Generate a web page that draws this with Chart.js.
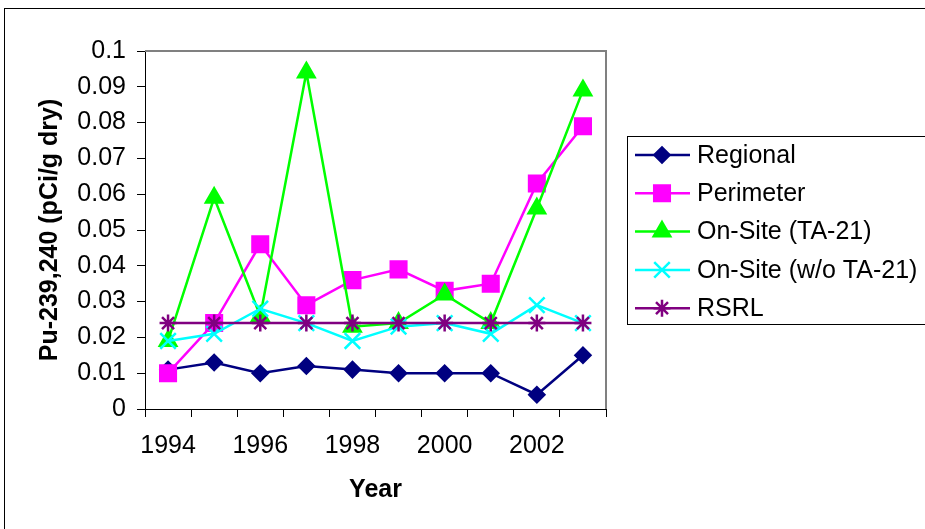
<!DOCTYPE html>
<html>
<head>
<meta charset="utf-8">
<script src="https://cdn.jsdelivr.net/npm/chart.js@4/dist/chart.umd.min.js"></script>
<style>
  body { margin: 0; background: #fff; }
  #wrap { width: 925px; height: 529px; }
</style>
</head>
<body>
<div id="wrap"><canvas id="chart" width="925" height="529"></canvas></div>
<script>
// Categories and series
const years = ['1994', '1995', '1996', '1997', '1998', '1999', '2000', '2001', '2002', '2003'];
const regional = [0.011, 0.013, 0.010, 0.012, 0.011, 0.010, 0.010, 0.010, 0.004, 0.015];
const perimeter = [0.010, 0.024, 0.046, 0.029, 0.036, 0.039, 0.033, 0.035, 0.063, 0.079];
const onSiteTA21 = [0.019, 0.059, 0.026, 0.094, 0.023, 0.024, 0.032, 0.024, 0.056, 0.089];
const onSiteNoTA21 = [0.019, 0.021, 0.028, 0.024, 0.019, 0.023, 0.024, 0.021, 0.029, 0.024];
const rsrl = [0.024, 0.024, 0.024, 0.024, 0.024, 0.024, 0.024, 0.024, 0.024, 0.024];
const yTicks = [0, 0.01, 0.02, 0.03, 0.04, 0.05, 0.06, 0.07, 0.08, 0.09, 0.1];

const FONT = 'Arial, "Liberation Sans", sans-serif';
Chart.defaults.font.family = FONT;
Chart.defaults.font.size = 25;
Chart.defaults.color = '#000';

function series(label, data, color, style, radius, order) {
    return {
        label: label,
        data: data,
        borderColor: color,
        backgroundColor: color,
        pointBackgroundColor: color,
        pointBorderColor: color,
        pointStyle: style,
        pointRadius: radius,
        pointBorderWidth: 2.5,
        borderWidth: 2.5,
        tension: 0,
        order: order
    };
}

// white page, outer frame, grey top/right of plot
const framePlugin = {
    id: 'frame',
    beforeDraw(chart) {
        const ctx = chart.ctx;
        ctx.save();
        ctx.fillStyle = '#fff';
        ctx.fillRect(0, 0, chart.width, chart.height);
        ctx.strokeStyle = '#000';
        ctx.lineWidth = 1;
        ctx.strokeRect(4.5, 8.5, chart.width + 10, chart.height + 10);
        ctx.restore();
    },
    beforeDatasetsDraw(chart) {
        const a = chart.chartArea;
        const ctx = chart.ctx;
        ctx.save();
        ctx.strokeStyle = '#808080';
        ctx.lineWidth = 2;
        ctx.beginPath();
        ctx.moveTo(a.left, a.top);
        ctx.lineTo(a.right, a.top);
        ctx.lineTo(a.right, a.bottom);
        ctx.stroke();
        ctx.restore();
    }
};

// Excel style legend: line with marker, boxed, on the right
const legendPlugin = {
    id: 'excelLegend',
    afterDraw(chart) {
        const ctx = chart.ctx;
        const box = { x: 627.5, y: 136.5, w: 400, h: 188 };
        ctx.save();
        ctx.strokeStyle = '#000';
        ctx.lineWidth = 1;
        ctx.strokeRect(box.x, box.y, box.w, box.h);
        const sets = chart.data.datasets;
        sets.forEach(function(ds, i) {
            const y = 155 + i * 38.3;
            ctx.strokeStyle = ds.borderColor;
            ctx.lineWidth = ds.borderWidth;
            ctx.beginPath();
            ctx.moveTo(635, y);
            ctx.lineTo(690, y);
            ctx.stroke();
            ctx.fillStyle = ds.pointBackgroundColor;
            ctx.lineWidth = ds.pointBorderWidth;
            Chart.helpers.drawPoint(ctx, {
                pointStyle: ds.pointStyle,
                radius: ds.pointRadius,
                rotation: 0,
                borderWidth: ds.pointBorderWidth
            }, 662, y);
            ctx.fillStyle = '#000';
            ctx.font = '25px ' + FONT;
            ctx.textBaseline = 'middle';
            ctx.textAlign = 'left';
            ctx.fillText(ds.label, 697, y + 1);
        });
        ctx.restore();
    }
};

const ctx = document.getElementById('chart');
new Chart(ctx, {
    type: 'line',
    data: {
        labels: years,
        datasets: [
            series('Regional', regional, '#000080', 'rectRot', 7.5, 5),
            series('Perimeter', perimeter, '#FF00FF', 'rect', 11, 4),
            series('On-Site (TA-21)', onSiteTA21, '#00FF00', 'triangle', 9.5, 3),
            series('On-Site (w/o TA-21)', onSiteNoTA21, '#00FFFF', 'crossRot', 11, 2),
            series('RSRL', rsrl, '#800080', 'star', 8.5, 1)
        ]
    },
    options: {
        responsive: false,
        animation: false,
        layout: { padding: { left: 0, top: 51, right: 319, bottom: 0 } },
        plugins: {
            legend: { display: false },
            tooltip: { enabled: false }
        },
        scales: {
            x: {
                type: 'category',
                offset: true,
                grid: { offset: true, drawOnChartArea: false, drawTicks: true, tickLength: 8, color: '#000' },
                border: { color: '#000', width: 1 },
                ticks: {
                    autoSkip: false,
                    maxRotation: 0,
                    padding: 14,
                    callback: function(val, idx) { return idx % 2 === 0 ? years[idx] : ''; }
                },
                title: { display: true, text: 'Year', font: { weight: 'bold', size: 25 }, padding: { bottom: 24 } },
                afterFit(scale) { scale.height = 120; }
            },
            y: {
                min: 0,
                max: 0.1,
                grid: { drawOnChartArea: false, drawTicks: true, tickLength: 8, color: '#000' },
                border: { color: '#000', width: 1 },
                afterBuildTicks(scale) { scale.ticks = yTicks.map(v => ({ value: v })); },
                ticks: {
                    padding: 11,
                    callback: function(v) { return String(Number(v.toFixed(2))); }
                },
                title: { display: true, text: 'Pu-239,240 (pCi/g dry)', font: { weight: 'bold', size: 25 }, padding: { top: 35 } },
                afterFit(scale) { scale.width = 145; }
            }
        }
    },
    plugins: [framePlugin, legendPlugin]
});
</script>
</body>
</html>
